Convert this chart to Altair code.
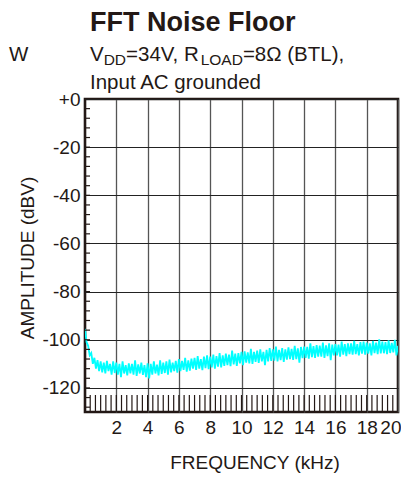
import altair as alt
import pandas as pd

# ---------------- data ----------------
TITLE = "FFT Noise Floor"
SUB1 = [("V", False), ("DD", True), ("=34V, R", False), ("LOAD", True), ("=8\u03a9 (BTL),", False)]
SUB2 = "Input AC grounded"
X_TITLE = "FREQUENCY (kHz)"
Y_TITLE = "AMPLITUDE (dBV)"

x_ticks = [2, 4, 6, 8, 10, 12, 14, 16, 18, 20]
y_ticks = [0, -20, -40, -60, -80, -100, -120]
x_minor = [round(k / 3, 3) for k in range(1, 60)]
y_minor = [-4 * k for k in range(1, 33)]

# FFT bins (kHz) and noise amplitude (dBV)
freq = [round(i * 0.1, 1) for i in range(201)]
amp = [
    -95.5, -101, -102.5, -106.5, -105.5, -110, -107.5, -112, -108.5, -113,
    -109, -113.5, -109.5, -114, -108.8, -113, -110, -114.5, -109, -113.8,
    -109.5, -114.5, -110, -115.5, -109, -114, -110.5, -114.8, -109.8, -114,
    -110, -114.5, -108.5, -115, -110.2, -114, -109.5, -114.6, -110.5, -115.5,
    -109.8, -116, -110, -114.5, -109, -114, -110.3, -114.8, -108.5, -114.2,
    -109.5, -113.8, -109, -114.5, -108.2, -113.5, -109.5, -113, -108.8, -113.7,
    -108, -113, -108.8, -112.5, -107.5, -113.2, -108.6, -112.8, -107.8, -112,
    -107.5, -112.5, -106.8, -112, -108, -112.6, -107, -111.8, -106.5, -112.2,
    -107, -111.5, -106.2, -112, -106.8, -111.2, -105.5, -111.5, -106.5, -110.8,
    -105.8, -110.5, -106.2, -111, -104.5, -110.2, -105.8, -110.8, -105.5, -109.8,
    -105, -110.5, -104.8, -109.5, -105.2, -109.8, -103.8, -110, -105, -109.2,
    -104.5, -109.6, -104, -109, -105, -110.5, -104.2, -109, -103.5, -108.8,
    -104, -108.7, -102.8, -109, -104.2, -108.5, -103.5, -109.2, -104, -108.2,
    -103.2, -108, -103.8, -108.4, -102.5, -108, -103.6, -109.5, -103, -107.6,
    -102.8, -107.5, -103, -107.8, -101.5, -107.2, -102.6, -107.5, -102.2, -107,
    -102.4, -107, -101.2, -107.5, -102.3, -106.8, -101.5, -108.5, -102, -106.5,
    -101.8, -106.5, -102, -107, -100.8, -106.2, -101.8, -106.8, -101.5, -106,
    -101.5, -106.2, -100.5, -106, -101.8, -106.5, -101, -105.8, -100.8, -106.2,
    -101.2, -105.8, -101.5, -106.5, -100.5, -105.5, -101.2, -106, -99.8, -105.7,
    -100.8, -105.6, -101, -106, -100.2, -105.5, -101.3, -105.2, -100, -106.5,
    -102.5,
]

# ---------------- layout ----------------
W, H = 313, 313
FONT = "Liberation Sans"
INK = "#231815"
MAIN, SUBF = 20.5, 15.5

xscale = alt.Scale(domain=[0, 20], nice=False, zero=False)
yscale = alt.Scale(domain=[-130, 0], nice=False, zero=False)

df = pd.DataFrame({"f": freq, "a": amp})

line = alt.Chart(df).mark_line(color="#00FFFF", strokeWidth=1.8, clip=True).encode(
    x=alt.X("f:Q", scale=xscale, axis=alt.Axis(
        values=x_ticks, grid=True, gridColor="#555555", gridWidth=1.3,
        ticks=False, domain=False, labelFont=FONT, labelFontSize=19,
        labelColor=INK, labelPadding=6, labelFlush=False, labelOverlap=False,
        labelAlign=alt.expr("datum.value == 20 ? 'right' : 'center'"),
        labelOffset=alt.expr("datum.value == 20 ? 3 : 0"),
        labelBound=False, title=None)),
    y=alt.Y("a:Q", scale=yscale, axis=alt.Axis(
        values=y_ticks, grid=True, gridColor="#222222", gridWidth=1.2,
        ticks=False, domain=False, labelFont=FONT, labelFontSize=19,
        labelColor=INK, labelPadding=5, labelFlush=False, labelOverlap=False,
        labelExpr="datum.value == 0 ? '+0' : '-' + toString(abs(datum.value))",
        title=None)),
)

xminor = alt.Chart(pd.DataFrame({"xm": x_minor})).mark_rule(color=INK, strokeWidth=1.2).encode(
    x=alt.X("xm:Q", scale=xscale, axis=None), y=alt.value(H - 17), y2=alt.value(H))

yminor = alt.Chart(pd.DataFrame({"ym": y_minor})).mark_rule(color=INK, strokeWidth=1.2).encode(
    y=alt.Y("ym:Q", scale=yscale, axis=None), x=alt.value(0), x2=alt.value(5))


def txt(s, x, y, size, **kw):
    return alt.Chart(pd.DataFrame({"t": [s]})).mark_text(
        font=FONT, fontSize=size, color=INK, align=kw.pop("align", "left"),
        baseline=kw.pop("baseline", "alphabetic"), **kw).encode(
        x=alt.value(x), y=alt.value(y), text="t:N")


# metrics of Liberation Sans (em units) for placing the subscript pieces
widths = {"V": 0.667, "DD": 1.444, "=34V, R": 3.641, "LOAD": 2.723}
texts = [txt(TITLE, 5, -68, 27, fontWeight="bold")]
cx = 5
for s, sub in SUB1:
    size = SUBF if sub else MAIN
    texts.append(txt(s, cx, -38 + (4 if sub else 0), size))
    cx += widths.get(s, 0) * size
texts.append(txt(SUB2, 5, -10, MAIN))
texts.append(txt("W", -76, -38, MAIN))
texts.append(txt(X_TITLE, 170, H + 51, 19, align="center", baseline="middle"))
texts.append(txt(Y_TITLE, -57, 159, 19, align="center", baseline="middle", angle=270))

chart = alt.layer(line, xminor, yminor, *texts).resolve_axis(
    x="independent", y="independent"
).properties(
    width=W, height=H,
    autosize=alt.AutoSizeParams(type="none"),
    padding={"left": 77, "top": 91, "right": 3, "bottom": 62},
    background="white",
).configure_view(stroke=INK, strokeWidth=2.6)

chart.save("out.html", embed_options={"renderer": "svg", "actions": False})
